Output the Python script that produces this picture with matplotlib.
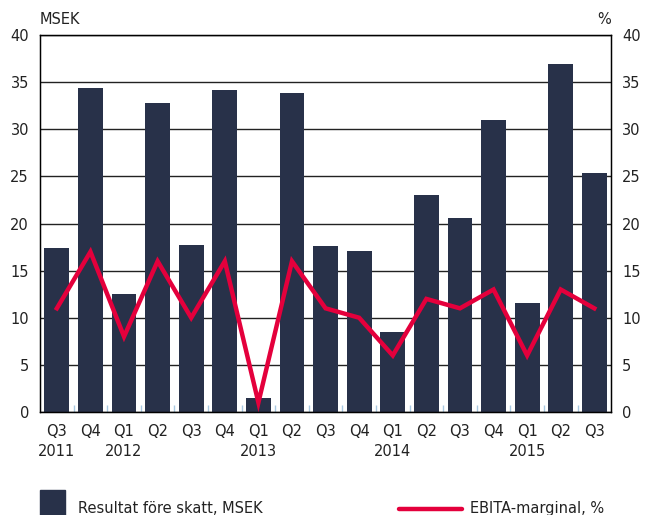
import matplotlib
matplotlib.use('Agg')
import matplotlib.pyplot as plt
from matplotlib.patches import Rectangle
from matplotlib.lines import Line2D
from matplotlib.ticker import MultipleLocator, FixedLocator

plt.rcParams['font.family'] = ['DejaVu Sans']
plt.rcParams['font.size'] = 10.5

# data
quarters = ['Q3\n2011', 'Q4', 'Q1\n2012', 'Q2', 'Q3', 'Q4', 'Q1\n2013', 'Q2', 'Q3',
            'Q4', 'Q1\n2014', 'Q2', 'Q3', 'Q4', 'Q1\n2015', 'Q2', 'Q3']
resultat = [17.4, 34.4, 12.5, 32.8, 17.7, 34.2, 1.5, 33.8, 17.6,
            17.1, 8.5, 23.0, 20.6, 31.0, 11.6, 36.9, 25.4]
ebita = [11, 17, 8, 16, 10, 16, 1, 16, 11, 10, 6, 12, 11, 13, 6, 13, 11]

bar_color = '#283149'
line_color = '#e4003c'
text_color = '#222222'

fig = plt.figure(figsize=(6.46, 5.15), dpi=100)
ax = fig.add_axes([0.062, 0.2, 0.884, 0.732])
x = list(range(len(quarters)))

ax.bar(x, resultat, width=0.74, color=bar_color, zorder=2)
ax.set_xlim(-0.5, len(quarters) - 0.5)
ax.set_ylim(0, 40)
ax.yaxis.set_major_locator(MultipleLocator(5))
ax.grid(axis='y', color='#222222', linewidth=1, zorder=1)
ax.set_axisbelow(True)
ax.set_xticks(x)
ax.set_xticklabels(quarters, linespacing=1.35)
ax.tick_params(axis='x', length=0, pad=9, labelcolor=text_color)
ax.tick_params(axis='y', length=0, pad=8, labelcolor=text_color)
ax.xaxis.set_minor_locator(FixedLocator([i + 0.5 for i in x[:-1]]))
ax.tick_params(axis='x', which='minor', direction='in', length=5, color='#a9c9e2', width=1)
for s in ax.spines.values():
    s.set_color('black')
    s.set_linewidth(1)

ax2 = ax.twinx()
ax2.plot(x, ebita, color=line_color, linewidth=3.2, solid_joinstyle='miter', zorder=3)
ax2.set_ylim(0, 40)
ax2.yaxis.set_major_locator(MultipleLocator(5))
ax2.tick_params(axis='y', length=0, pad=8, labelcolor=text_color)

ax.text(0, 1.02, 'MSEK', transform=ax.transAxes, ha='left', va='bottom', color=text_color)
ax.text(1, 1.02, '%', transform=ax.transAxes, ha='right', va='bottom', color=text_color)

# legend drawn by hand
fig.add_artist(Rectangle((0.062, 0.0), 0.0387, 0.0485, color=bar_color, transform=fig.transFigure))
fig.text(0.1207, 0.0125, 'Resultat före skatt, MSEK', ha='left', va='center', color=text_color)
fig.add_artist(Line2D([0.618, 0.715], [0.0117, 0.0117], color=line_color, linewidth=3.2,
                      solid_capstyle='round', transform=fig.transFigure))
fig.text(0.7276, 0.0125, 'EBITA-marginal, %', ha='left', va='center', color=text_color)

fig.savefig('out.png', dpi=100)
